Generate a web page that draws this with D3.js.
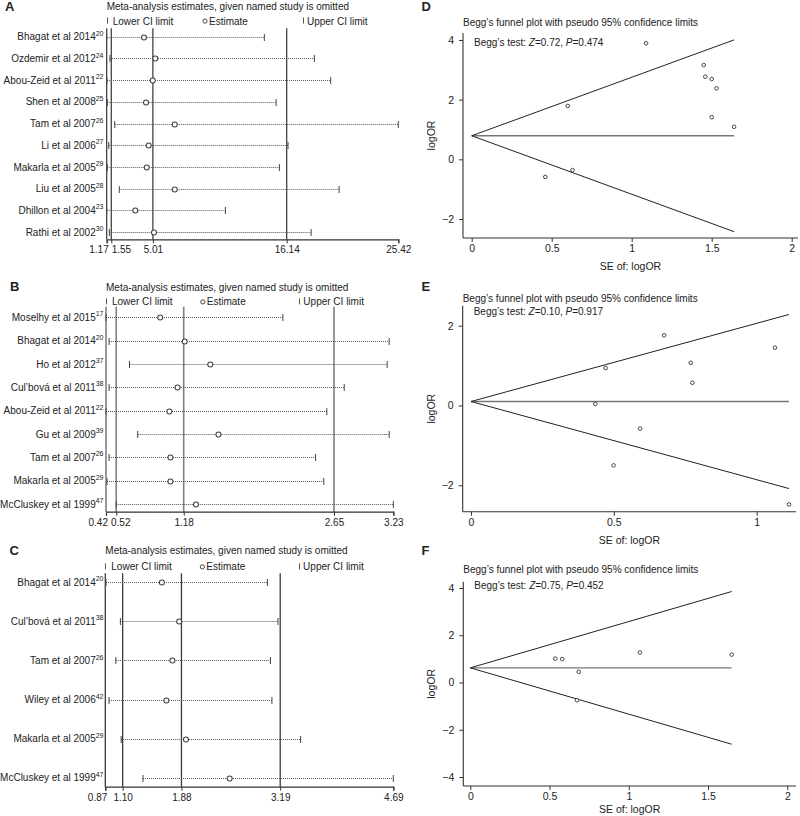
<!DOCTYPE html>
<html><head><meta charset="utf-8">
<script src="https://cdn.jsdelivr.net/npm/d3@7"></script>
<style>
body{margin:0;background:#fff}
svg{display:block}
text{font-family:"Liberation Sans",Arial,Helvetica,sans-serif;fill:#222}
</style>
</head><body>
<svg id="c" width="800" height="816"></svg>
<script>
// ---------- Panel A (forest: study omitted) ----------
const studiesA = ["Bhagat et al 2014","Ozdemir et al 2012","Abou-Zeid et al 2011","Shen et al 2008","Tam et al 2007","Li et al 2006","Makarla et al 2005","Liu et al 2005","Dhillon et al 2004","Rathi et al 2002"];
const refsA = ["20","24","22","25","26","27","29","28","23","30"];
const estA = [4.27,5.21,5.00,4.44,6.83,4.66,4.50,6.83,3.55,5.10];
const lowerA = [1.17,1.44,1.19,1.22,1.84,1.34,1.22,2.22,1.17,1.39];
const upperA = [14.28,18.44,19.80,15.26,25.42,16.25,15.53,20.50,11.04,18.17];
const ticksA = [1.17,1.55,5.01,16.14,25.42];

// ---------- Panel B ----------
const studiesB = ["Moselhy et al 2015","Bhagat et al 2014","Ho et al 2012","Cul\u2019bov\u00e1 et al 2011","Abou-Zeid et al 2011","Gu et al 2009","Tam et al 2007","Makarla et al 2005","McCluskey et al 1999"];
const refsB = ["17","20","37","38","22","39","26","29","47"];
const estB = [0.95,1.19,1.44,1.12,1.04,1.52,1.05,1.05,1.30];
const lowerB = [0.42,0.45,0.65,0.45,0.42,0.73,0.45,0.43,0.52];
const upperB = [2.15,3.19,3.17,2.75,2.58,3.19,2.47,2.55,3.23];
const ticksB = [0.42,0.52,1.18,2.65,3.23];

// ---------- Panel C ----------
const studiesC = ["Bhagat et al 2014","Cul\u2019bov\u00e1 et al 2011","Tam et al 2007","Wiley et al 2006","Makarla et al 2005","McCluskey et al 1999"];
const refsC = ["20","38","26","42","29","47"];
const estC = [1.62,1.85,1.76,1.68,1.94,2.52];
const lowerC = [0.88,1.07,1.01,0.92,1.08,1.37];
const upperC = [3.02,3.16,3.06,3.08,3.46,4.69];
const ticksC = [0.87,1.10,1.88,3.19,4.69];

// ---------- Panel D (funnel) ----------
const seD = [1.09,1.45,1.46,1.50,1.53,0.60,1.50,1.64,0.46,0.63];
const logorD = [3.89,3.16,2.77,2.69,2.38,1.79,1.41,1.09,-0.59,-0.36];
const thetaD = 0.79;
const zD = "0.72", pD = "0.474";
const xTicksD = [0,0.5,1,1.5,2], yTicksD = [-2,0,2,4];

// ---------- Panel E ----------
const seE = [0.435,0.471,0.499,0.592,0.676,0.769,0.775,1.064,1.113];
const logorE = [0.04,0.94,-1.50,-0.58,1.76,1.07,0.57,1.45,-2.48];
const thetaE = 0.10;
const zE = "0.10", pE = "0.917";
const xTicksE = [0,0.5,1], yTicksE = [-2,0,2];

// ---------- Panel F ----------
const seF = [0.536,0.580,0.684,0.673,1.070,1.649];
const logorF = [1.01,0.99,0.45,-0.75,1.27,1.18];
const thetaF = 0.62;
const zF = "0.75", pF = "0.452";
const xTicksF = [0,0.5,1,1.5,2], yTicksF = [-4,-2,0,2,4];

const svg = d3.select("#c");
const fmt = d3.format(".2f");
const crisp = v => Math.round(v) + 0.5;

function letter(t, x, y){
  svg.append("text").attr("x",x).attr("y",y).attr("font-size",13).attr("font-weight","bold").attr("fill","#111").text(t);
}

function forest(o){
  const g = svg.append("g");
  const x = d3.scaleLinear().domain([o.ticks[0], o.ticks[o.ticks.length-1]]).range([o.x0, o.x1]);
  const y = d3.scalePoint().domain(o.studies).range([o.rowFirst, o.rowLast]);
  const W = o.x1 - o.x0;
  // title
  g.append("text").attr("x", o.x0).attr("y", o.titleY).attr("font-size",10).text("Meta-analysis estimates, given named study is omitted");
  // legend
  const ly = o.legendY;
  g.append("line").attr("x1",crisp(o.x0)).attr("x2",crisp(o.x0)).attr("y1",ly-7).attr("y2",ly-1).attr("stroke","#555").attr("stroke-width",1);
  g.append("text").attr("x",o.x0+6).attr("y",ly).attr("font-size",10).text("Lower CI limit");
  g.append("circle").attr("cx",o.x0+0.337*W).attr("cy",ly-3.5).attr("r",2.1).attr("fill","none").attr("stroke","#444").attr("stroke-width",1);
  g.append("text").attr("x",o.x0+0.337*W+4).attr("y",ly).attr("font-size",10).text("Estimate");
  g.append("line").attr("x1",crisp(o.x0+0.673*W)).attr("x2",crisp(o.x0+0.673*W)).attr("y1",ly-7).attr("y2",ly-1).attr("stroke","#555").attr("stroke-width",1);
  g.append("text").attr("x",o.x0+0.673*W+4).attr("y",ly).attr("font-size",10).text("Upper CI limit");

  // reference lines (incl. left border at minimum)
  g.selectAll(".ref").data(o.ticks.slice(0,4)).enter().append("line")
    .attr("x1",d=>x(d)).attr("x2",d=>x(d)).attr("y1",o.top).attr("y2",o.axisY)
    .attr("stroke",o.lineColor).attr("stroke-width",o.lineWidth);

  // axis
  const axis = d3.axisBottom(x).tickValues(o.ticks).tickSize(4).tickPadding(3).tickFormat(fmt);
  const ax = g.append("g").attr("transform",`translate(0,${o.axisY})`).call(axis);
  ax.select(".domain").attr("stroke","#333").attr("stroke-width",1.2);
  ax.selectAll(".tick line").attr("stroke","#333");
  const tt = ax.selectAll(".tick text").attr("font-size",10).attr("fill","#222").attr("font-family","Liberation Sans, Arial, sans-serif");
  // avoid overlap of the two leftmost labels (as in reference)
  const nodes = tt.nodes();
  d3.select(nodes[0]).attr("text-anchor","end").attr("dx",1.5);
  const w1 = nodes[1].getComputedTextLength();
  const t1 = x(o.ticks[1]);
  const firstEnd = x(o.ticks[0]) + 1.5;
  const start1 = t1 - w1/2;
  if (start1 < firstEnd + 3) d3.select(nodes[1]).attr("dx", (firstEnd + 3) - start1);

  // rows
  const rows = g.selectAll(".row").data(o.studies).enter().append("g");
  rows.append("line")
    .attr("x1",(d,i)=>x(o.lower[i])).attr("x2",(d,i)=>x(o.upper[i]))
    .attr("y1",d=>crisp(y(d))).attr("y2",d=>crisp(y(d)))
    .attr("stroke","#555").attr("stroke-width",1).attr("stroke-dasharray","1,1");
  rows.append("line")
    .attr("x1",(d,i)=>x(o.lower[i])).attr("x2",(d,i)=>x(o.lower[i]))
    .attr("y1",d=>crisp(y(d))-3.5).attr("y2",d=>crisp(y(d))+3.5).attr("stroke","#444").attr("stroke-width",1);
  rows.append("line")
    .attr("x1",(d,i)=>x(o.upper[i])).attr("x2",(d,i)=>x(o.upper[i]))
    .attr("y1",d=>crisp(y(d))-3.5).attr("y2",d=>crisp(y(d))+3.5).attr("stroke","#444").attr("stroke-width",1);
  rows.append("circle")
    .attr("cx",(d,i)=>x(o.est[i])).attr("cy",d=>crisp(y(d))).attr("r",2.5)
    .attr("fill","#fff").attr("stroke","#444").attr("stroke-width",1.1);
  const lab = rows.append("text").attr("x",103.5).attr("y",d=>y(d)+3.6).attr("text-anchor","end").attr("font-size",10);
  lab.append("tspan").text(d=>d);
  lab.append("tspan").attr("dy",-4.5).attr("font-size",7).text((d,i)=>o.refs[i]);
}

function funnel(o){
  const g = svg.append("g");
  const x = d3.scaleLinear().domain(o.xd).range(o.xr);
  const y = d3.scaleLinear().domain(o.yd).range(o.yr);
  // title & test
  g.append("text").attr("x",o.left).attr("y",o.titleY).attr("font-size",10).text("Begg\u2019s funnel plot with pseudo 95% confidence limits");
  const t = g.append("text").attr("x",o.left+11).attr("y",o.testY).attr("font-size",10);
  t.append("tspan").text("Begg\u2019s test: ");
  t.append("tspan").attr("font-style","italic").text("Z");
  t.append("tspan").text("=" + o.z + ", ");
  t.append("tspan").attr("font-style","italic").text("P");
  t.append("tspan").text("=" + o.p);
  // frame axes
  g.append("line").attr("x1",o.left).attr("x2",o.left).attr("y1",o.top).attr("y2",o.bottom).attr("stroke","#333").attr("stroke-width",1.1);
  g.append("line").attr("x1",o.left).attr("x2",o.right).attr("y1",o.bottom).attr("y2",o.bottom).attr("stroke","#333").attr("stroke-width",1.1);
  // x axis
  const xa = g.append("g").attr("transform",`translate(0,${o.bottom})`)
    .call(d3.axisBottom(x).tickValues(o.xt).tickSize(4).tickPadding(3).tickFormat(d3.format("~g")));
  xa.select(".domain").remove();
  xa.selectAll(".tick line").attr("stroke","#333");
  xa.selectAll(".tick text").attr("font-size",10.5).attr("fill","#222").attr("font-family","Liberation Sans, Arial, sans-serif");
  const ya = g.append("g").attr("transform",`translate(${o.left},0)`)
    .call(d3.axisLeft(y).tickValues(o.yt).tickSize(4).tickPadding(5).tickFormat(d3.format("~g")));
  ya.select(".domain").remove();
  ya.selectAll(".tick line").attr("stroke","#333");
  ya.selectAll(".tick text").attr("font-size",10.5).attr("fill","#222").attr("font-family","Liberation Sans, Arial, sans-serif");
  // axis titles
  g.append("text").attr("transform",`translate(${o.left-28},${(o.top+o.bottom)/2}) rotate(-90)`)
    .attr("text-anchor","middle").attr("font-size",10.5).text("logOR");
  g.append("text").attr("x",(o.left+o.right)/2).attr("y",o.seY).attr("text-anchor","middle").attr("font-size",10.5).text("SE of: logOR");
  // funnel lines
  const maxSe = d3.max(o.se);
  const line = d3.line().x(d=>x(d[0])).y(d=>y(d[1]));
  g.append("path").attr("d",line([[0,o.theta],[maxSe,o.theta]])).attr("stroke","#777").attr("stroke-width",1.4).attr("fill","none");
  g.append("path").attr("d",line([[0,o.theta],[maxSe,o.theta+1.96*maxSe]])).attr("stroke","#222").attr("stroke-width",1).attr("fill","none");
  g.append("path").attr("d",line([[0,o.theta],[maxSe,o.theta-1.96*maxSe]])).attr("stroke","#222").attr("stroke-width",1).attr("fill","none");
  // points
  g.selectAll(".pt").data(o.se).enter().append("circle")
    .attr("cx",d=>x(d)).attr("cy",(d,i)=>y(o.logor[i])).attr("r",1.8)
    .attr("fill","#fff").attr("stroke","#333").attr("stroke-width",0.9);
}

// ---- draw ----
letter("A",5,10.5);
forest({studies:studiesA, refs:refsA, est:estA, lower:lowerA, upper:upperA, ticks:ticksA,
  x0:106.7, x1:398.3, top:28.3, rowFirst:36.7, rowLast:232, axisY:239.3, titleY:9.8, legendY:24.6, lineColor:"#333", lineWidth:1.2});
letter("B",10,291);
forest({studies:studiesB, refs:refsB, est:estB, lower:lowerB, upper:upperB, ticks:ticksB,
  x0:106, x1:393.3, top:306.7, rowFirst:317.3, rowLast:504, axisY:511.7, titleY:291.4, legendY:305.4, lineColor:"#808080", lineWidth:1.6});
letter("C",9.5,555);
forest({studies:studiesC, refs:refsC, est:estC, lower:lowerC, upper:upperC, ticks:ticksC,
  x0:105.3, x1:393.3, top:573.3, rowFirst:582.3, rowLast:777.7, axisY:786.7, titleY:554.4, legendY:570.4, lineColor:"#3a3a3a", lineWidth:1.3});

letter("D",421.5,10.5);
funnel({se:seD, logor:logorD, theta:thetaD, z:zD, p:pD, xt:xTicksD, yt:yTicksD,
  xd:[0,2], xr:[471.7,791.7], yd:[-2,4], yr:[219,40],
  left:463, right:798, top:33, bottom:238, titleY:26.3, testY:46, seY:269.5});
letter("E",421.5,291);
funnel({se:seE, logor:logorE, theta:thetaE, z:zE, p:pE, xt:xTicksE, yt:yTicksE,
  xd:[0,1], xr:[471,756.7], yd:[-2,2], yr:[485.3,325.7],
  left:462.7, right:796, top:305.7, bottom:511.7, titleY:302, testY:314.5, seY:543.5});
letter("F",421.5,555);
funnel({se:seF, logor:logorF, theta:thetaF, z:zF, p:pF, xt:xTicksF, yt:yTicksF,
  xd:[0,2], xr:[470.3,787.3], yd:[-4,4], yr:[777,588],
  left:463.3, right:796, top:581.7, bottom:786, titleY:573, testY:589, seY:812.5});
</script>
</body></html>
